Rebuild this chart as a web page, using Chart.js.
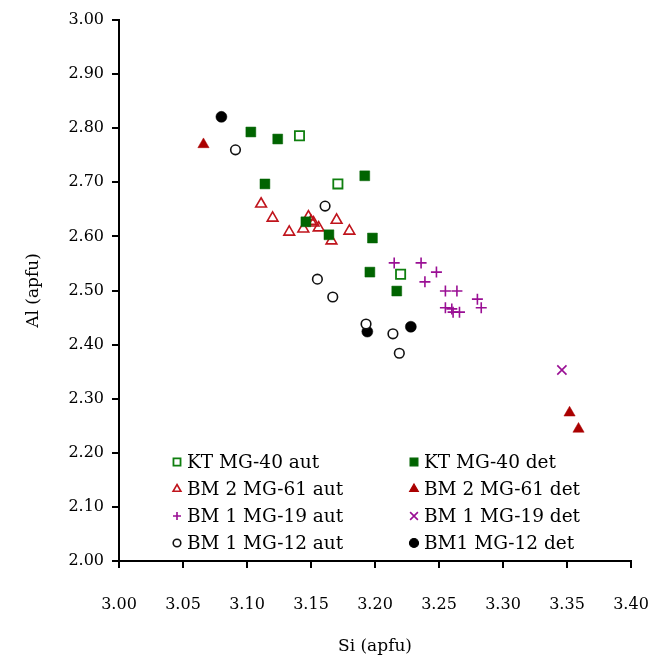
<!DOCTYPE html>
<html>
<head>
<meta charset="utf-8">
<script src="https://cdn.jsdelivr.net/npm/chart.js@4.4.1/dist/chart.umd.min.js"></script>
<style>
  html, body { margin: 0; padding: 0; background: #fff; }
  #grafico { display: block; }
</style>
</head>
<body>
<canvas id="grafico" width="652" height="657"></canvas>
<script>
// Si x Al (apfu)

const ticksSi = [3.00, 3.05, 3.10, 3.15, 3.20, 3.25, 3.30, 3.35, 3.40];
const ticksAl = [2.00, 2.10, 2.20, 2.30, 2.40, 2.50, 2.60, 2.70, 2.80, 2.90, 3.00];

const ktMg40Aut = [[3.141, 2.786], [3.171, 2.697], [3.220, 2.530]];
const ktMg40Det = [
  [3.103, 2.793], [3.124, 2.780], [3.114, 2.697], [3.192, 2.712], [3.146, 2.627],
  [3.164, 2.603], [3.198, 2.597], [3.196, 2.534], [3.217, 2.499]
];
const bm2Mg61Aut = [
  [3.111, 2.660], [3.120, 2.634], [3.133, 2.608], [3.144, 2.614], [3.148, 2.636], [3.150, 2.628],
  [3.152, 2.625], [3.156, 2.616], [3.166, 2.592], [3.170, 2.630], [3.180, 2.610]
];
const bm2Mg61Det = [[3.066, 2.770], [3.352, 2.274], [3.359, 2.244]];
const bm1Mg19Aut = [
  [3.215, 2.551], [3.236, 2.551], [3.248, 2.534], [3.239, 2.516], [3.255, 2.499], [3.264, 2.499],
  [3.280, 2.484], [3.283, 2.468], [3.255, 2.468], [3.260, 2.466], [3.261, 2.460], [3.266, 2.460]
];
const bm1Mg19Det = [[3.346, 2.353]];
const bm1Mg12Aut = [
  [3.091, 2.760], [3.161, 2.656], [3.155, 2.521], [3.167, 2.488], [3.193, 2.438],
  [3.214, 2.420], [3.219, 2.384]
];
const bm1Mg12Det = [[3.080, 2.821], [3.194, 2.424], [3.228, 2.433]];

const rotulos = [
  'KT MG-40 aut', 'KT MG-40 det', 'BM 2 MG-61 aut', 'BM 2 MG-61 det',
  'BM 1 MG-19 aut', 'BM 1 MG-19 det', 'BM 1 MG-12 aut', 'BM1 MG-12 det'
];

const FONTE = '"DejaVu Serif", "Liberation Serif", serif';

function pontos(lista) {
  return lista.map(([x, y]) => ({ x, y }));
}

function serie(i, dados, estilo) {
  return Object.assign({ label: rotulos[i], data: pontos(dados), showLine: false }, estilo);
}

const datasets = [
  serie(0, ktMg40Aut, { pointStyle: 'rect', pointRadius: 6.5, pointBackgroundColor: '#ffffff', pointBorderColor: '#0f7f0f', pointBorderWidth: 1.8, legendaRaio: 5 }),
  serie(1, ktMg40Det, { pointStyle: 'rect', pointRadius: 7, pointBackgroundColor: '#006400', pointBorderColor: '#006400', pointBorderWidth: 0.5, legendaRaio: 5.5 }),
  serie(2, bm2Mg61Aut, { pointStyle: 'triangle', pointRadius: 6.2, pointBackgroundColor: 'rgba(255,255,255,0)', pointBorderColor: '#c0141c', pointBorderWidth: 1.6, legendaRaio: 4.5 }),
  serie(3, bm2Mg61Det, { pointStyle: 'triangle', pointRadius: 6.5, pointBackgroundColor: '#aa0000', pointBorderColor: '#aa0000', pointBorderWidth: 0.5, legendaRaio: 5 }),
  serie(4, bm1Mg19Aut, { pointStyle: 'cross', pointRadius: 5.5, pointBackgroundColor: '#9a0f94', pointBorderColor: '#9a0f94', pointBorderWidth: 1.6, legendaRaio: 4 }),
  serie(5, bm1Mg19Det, { pointStyle: 'crossRot', pointRadius: 6.5, pointBackgroundColor: '#9a0f94', pointBorderColor: '#9a0f94', pointBorderWidth: 1.6, legendaRaio: 5.5 }),
  serie(6, bm1Mg12Aut, { pointStyle: 'circle', pointRadius: 4.8, pointBackgroundColor: '#ffffff', pointBorderColor: '#111111', pointBorderWidth: 1.6, legendaRaio: 3.8 }),
  serie(7, bm1Mg12Det, { pointStyle: 'circle', pointRadius: 5.5, pointBackgroundColor: '#000000', pointBorderColor: '#000000', pointBorderWidth: 0.5, legendaRaio: 4.5 })
];

// Legenda em duas colunas dentro da área do gráfico
const legendaGrade = {
  id: 'legendaGrade',
  afterDatasetsDraw(chart) {
    const { ctx, chartArea } = chart;
    const colunas = [chartArea.left + 58, chartArea.left + 295];
    const topo = chartArea.top + 442;
    const passo = 27;
    chart.data.datasets.forEach((ds, i) => {
      const x = colunas[i % 2];
      const y = topo + Math.floor(i / 2) * passo;
      ctx.save();
      ctx.fillStyle = ds.pointBackgroundColor;
      ctx.strokeStyle = ds.pointBorderColor;
      ctx.lineWidth = Math.max(ds.pointBorderWidth, 1.2);
      Chart.helpers.drawPoint(ctx, { pointStyle: ds.pointStyle, radius: ds.legendaRaio, borderWidth: ctx.lineWidth, rotation: 0 }, x, y);
      ctx.fillStyle = '#000';
      ctx.font = '18.5px ' + FONTE;
      ctx.textBaseline = 'middle';
      ctx.textAlign = 'left';
      ctx.fillText(ds.label, x + 10, y + 1);
      ctx.restore();
    });
  }
};

new Chart(document.getElementById('grafico'), {
  type: 'scatter',
  data: { datasets },
  plugins: [legendaGrade],
  options: {
    responsive: false,
    animation: false,
    layout: { padding: { top: 20, right: 21, left: 0, bottom: 0 } },
    plugins: { legend: { display: false }, tooltip: { enabled: false } },
    scales: {
      x: {
        type: 'linear',
        min: 3.0,
        max: 3.4,
        afterBuildTicks: (eixo) => { eixo.ticks = ticksSi.map((v) => ({ value: v })); },
        afterFit: (eixo) => { eixo.height = 96; eixo.paddingLeft = 0; eixo.paddingRight = 0; },
        ticks: { color: '#000', font: { family: FONTE, size: 16 }, padding: 27, maxRotation: 0, callback: (v) => Number(v).toFixed(2) },
        grid: { drawOnChartArea: false, color: '#000', lineWidth: 2, tickLength: 7, tickWidth: 2 },
        border: { color: '#000', width: 2 },
        title: { display: true, text: 'Si (apfu)', color: '#000', font: { family: FONTE, size: 17 }, padding: { top: 0, bottom: 0 } }
      },
      y: {
        type: 'linear',
        min: 2.0,
        max: 3.0,
        afterBuildTicks: (eixo) => { eixo.ticks = ticksAl.map((v) => ({ value: v })); },
        afterFit: (eixo) => { eixo.width = 119; eixo.paddingTop = 0; eixo.paddingBottom = 0; },
        ticks: { color: '#000', font: { family: FONTE, size: 16 }, padding: 8, callback: (v) => Number(v).toFixed(2) },
        grid: { drawOnChartArea: false, color: '#000', lineWidth: 2, tickLength: 7, tickWidth: 2 },
        border: { color: '#000', width: 2 },
        title: { display: true, text: 'Al (apfu)', color: '#000', font: { family: FONTE, size: 17 }, padding: { top: 23, bottom: 0 } }
      }
    }
  }
});
</script>
</body>
</html>
